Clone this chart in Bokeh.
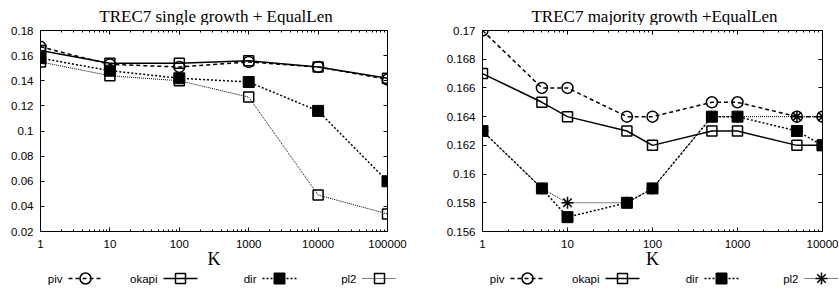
from bokeh.plotting import figure
from bokeh.models import (Range1d, FixedTicker, CustomJSTickFormatter, LogAxis,
                          LinearAxis)
from bokeh.layouts import column, row
from bokeh.embed import file_html
from bokeh.resources import INLINE
from bokeh.core.properties import value

# ---------------- data ----------------
series_names = ["piv", "okapi", "dir", "pl2"]

left_title = "TREC7 single growth + EqualLen"
left_k = [1, 10, 100, 1000, 10000, 100000]
left_piv = [0.167, 0.153, 0.151, 0.155, 0.151, 0.141]
left_okapi = [0.164, 0.154, 0.154, 0.156, 0.151, 0.142]
left_dir = [0.158, 0.148, 0.142, 0.139, 0.116, 0.060]
left_pl2 = [0.155, 0.144, 0.140, 0.127, 0.049, 0.034]
left_xticks = [1, 10, 100, 1000, 10000, 100000]
left_xlabels = ["1", "10", "100", "1000", "10000", "100000"]
left_yticks = [0.02, 0.04, 0.06, 0.08, 0.10, 0.12, 0.14, 0.16, 0.18]
left_ylabels = ["0.02", "0.04", "0.06", "0.08", "0.1", "0.12", "0.14", "0.16", "0.18"]

right_title = "TREC7 majority growth +EqualLen"
right_k = [1, 5, 10, 50, 100, 500, 1000, 5000, 10000]
right_piv = [0.170, 0.166, 0.166, 0.164, 0.164, 0.165, 0.165, 0.164, 0.164]
right_okapi = [0.167, 0.165, 0.164, 0.163, 0.162, 0.163, 0.163, 0.162, 0.162]
right_dir = [0.163, 0.159, 0.157, 0.158, 0.159, 0.164, 0.164, 0.163, 0.162]
right_pl2 = [0.163, 0.159, 0.158, 0.158, 0.159, 0.164, 0.164, 0.164, 0.164]
right_xticks = [1, 10, 100, 1000, 10000]
right_xlabels = ["1", "10", "100", "1000", "10000"]
right_yticks = [0.156, 0.158, 0.160, 0.162, 0.164, 0.166, 0.168, 0.170]
right_ylabels = ["0.156", "0.158", "0.16", "0.162", "0.164", "0.166", "0.168", "0.17"]

x_label = "K"

# ---------------- styles ----------------
SANS = "Liberation Sans"
SERIF = "Liberation Serif"
TICK_FS = "11.5px"
line_styles = {
    "piv": dict(line_dash="4 3", line_width=1.5),
    "okapi": dict(line_dash="solid", line_width=1.5),
    "dir": dict(line_dash="2 2", line_width=1.5),
    "pl2": dict(line_dash="1 1", line_width=1.0),
}
left_markers = {
    "piv": dict(marker="circle", size=11, fill_color=None, line_width=1.5),
    "okapi": dict(marker="square", size=10, fill_color=None, line_width=1.5),
    "dir": dict(marker="square", size=11, fill_color="black", line_width=1),
    "pl2": dict(marker="square", size=10, fill_color=None, line_width=1.5),
}
right_markers = dict(left_markers)
right_markers["pl2"] = dict(marker="asterisk", size=12, fill_color=None, line_width=1.5)

TOTAL_W, TOTAL_H = 839, 296
HEAD_H = 25
TOP_B = 5
FRAME_H = 201
BOT_B = 40
MAIN_H = TOP_B + FRAME_H + BOT_B
LEG_H = TOTAL_H - HEAD_H - MAIN_H
TITLE_BASE = 16
LEG_Y = 278
L_W, L_BL, L_BR = 420, 40, 33
R_W, R_BL, R_BR = 419, 62, 17


def fmt(ticks, labels):
    return CustomJSTickFormatter(args=dict(tv=ticks, tl=labels), code="""
        for (let i = 0; i < tv.length; i++) {
            if (Math.abs(tv[i] - tick) <= 1e-9 * Math.max(1, Math.abs(tv[i]))) return tl[i];
        }
        return "";
    """)


def minor_log(ticks):
    return [t * m for t in ticks[:-1] for m in range(2, 10)]


def style_axis(ax, labels=True, minor=True):
    ax.axis_line_color = "black"
    ax.axis_line_width = 1
    ax.major_tick_in = 4
    ax.major_tick_out = 0
    ax.major_tick_line_color = "black"
    if minor:
        ax.minor_tick_in = 2
        ax.minor_tick_out = 0
        ax.minor_tick_line_color = "black"
    else:
        ax.minor_tick_line_color = None
    if labels:
        ax.major_label_text_font = SANS
        ax.major_label_text_font_size = TICK_FS
        ax.major_label_text_color = "black"
    else:
        ax.major_label_text_font_size = "1px"
        ax.major_label_text_alpha = 0
        ax.major_label_standoff = 0


def make_chart(ks, data, markers, xticks, xlabels, yticks, ylabels, width, bl, br):
    p = figure(width=width, height=MAIN_H, x_axis_type="log",
               x_range=Range1d(xticks[0], xticks[-1]),
               y_range=Range1d(yticks[0], yticks[-1]),
               toolbar_location=None, output_backend="svg",
               min_border_left=bl, min_border_right=br,
               min_border_top=TOP_B, min_border_bottom=BOT_B)
    p.grid.visible = False
    p.outline_line_color = "black"
    p.outline_line_width = 1
    p.background_fill_color = "white"
    p.border_fill_color = "white"

    xt = FixedTicker(ticks=xticks, minor_ticks=minor_log(xticks))
    yt = FixedTicker(ticks=yticks, minor_ticks=[])

    xa = p.xaxis[0]
    xa.ticker = xt
    xa.formatter = fmt(xticks, xlabels)
    style_axis(xa)
    xa.major_label_standoff = 8
    xa.axis_label = x_label
    xa.axis_label_text_font = SERIF
    xa.axis_label_text_font_size = "18px"
    xa.axis_label_text_font_style = "normal"
    xa.axis_label_text_color = "black"
    xa.axis_label_standoff = -2

    ya = p.yaxis[0]
    ya.ticker = yt
    ya.formatter = fmt(yticks, ylabels)
    style_axis(ya, minor=False)
    ya.major_label_standoff = 7

    top = LogAxis(ticker=xt)
    style_axis(top, labels=False)
    p.add_layout(top, "above")
    rgt = LinearAxis(ticker=yt)
    style_axis(rgt, labels=False, minor=False)
    p.add_layout(rgt, "right")

    for name in series_names:
        ys = data[name]
        p.line(ks, ys, line_color="black", **line_styles[name])
        m = markers[name]
        p.scatter(ks, ys, marker=m["marker"], size=m["size"],
                  fill_color=m["fill_color"], line_color="black",
                  line_width=m["line_width"])
    return p


def strip(h, top):
    s = figure(width=TOTAL_W, height=h, x_range=Range1d(0, TOTAL_W),
               y_range=Range1d(top + h, top), toolbar_location=None,
               output_backend="svg", min_border=0,
               x_axis_location=None, y_axis_location=None)
    s.grid.visible = False
    s.outline_line_color = None
    return s


left = make_chart(left_k,
                  dict(piv=left_piv, okapi=left_okapi, dir=left_dir, pl2=left_pl2),
                  left_markers, left_xticks, left_xlabels, left_yticks, left_ylabels,
                  L_W, L_BL, L_BR)
right = make_chart(right_k,
                   dict(piv=right_piv, okapi=right_okapi, dir=right_dir, pl2=right_pl2),
                   right_markers, right_xticks, right_xlabels, right_yticks, right_ylabels,
                   R_W, R_BL, R_BR)

# ---------------- titles strip ----------------
head = strip(HEAD_H, 0)
frames = [(L_BL, L_W - L_BL - L_BR), (L_W + R_BL, R_W - R_BL - R_BR)]
head.text(x=[fl + fw / 2 + 2 for fl, fw in frames], y=[TITLE_BASE] * 2,
          text=[left_title, right_title], text_align="center",
          text_baseline="alphabetic", text_font=value(SERIF),
          text_font_size=value("17px"), text_color="black")

# ---------------- legend strip ----------------
leg = strip(LEG_H, HEAD_H + MAIN_H)
entry_offsets = [45, 140, 239, 339]
for (frame_left, _), markers in zip(frames, [left_markers, right_markers]):
    for off, name in zip(entry_offsets, series_names):
        c = frame_left + off
        leg.text(x=[c - 23], y=[LEG_Y], text=[name], text_align="right",
                 text_baseline="middle", text_font=value(SANS),
                 text_font_size=value("11.5px"), text_color="black")
        leg.segment(x0=[c - 17], x1=[c + 17], y0=[LEG_Y], y1=[LEG_Y],
                    line_color="black", **line_styles[name])
        m = markers[name]
        leg.scatter(x=[c], y=[LEG_Y], marker=m["marker"], size=m["size"],
                    fill_color=m["fill_color"], line_color="black",
                    line_width=m["line_width"])

layout = column(head, row(left, right, spacing=0), leg, spacing=0)
open("out.html", "w").write(file_html(layout, INLINE))
